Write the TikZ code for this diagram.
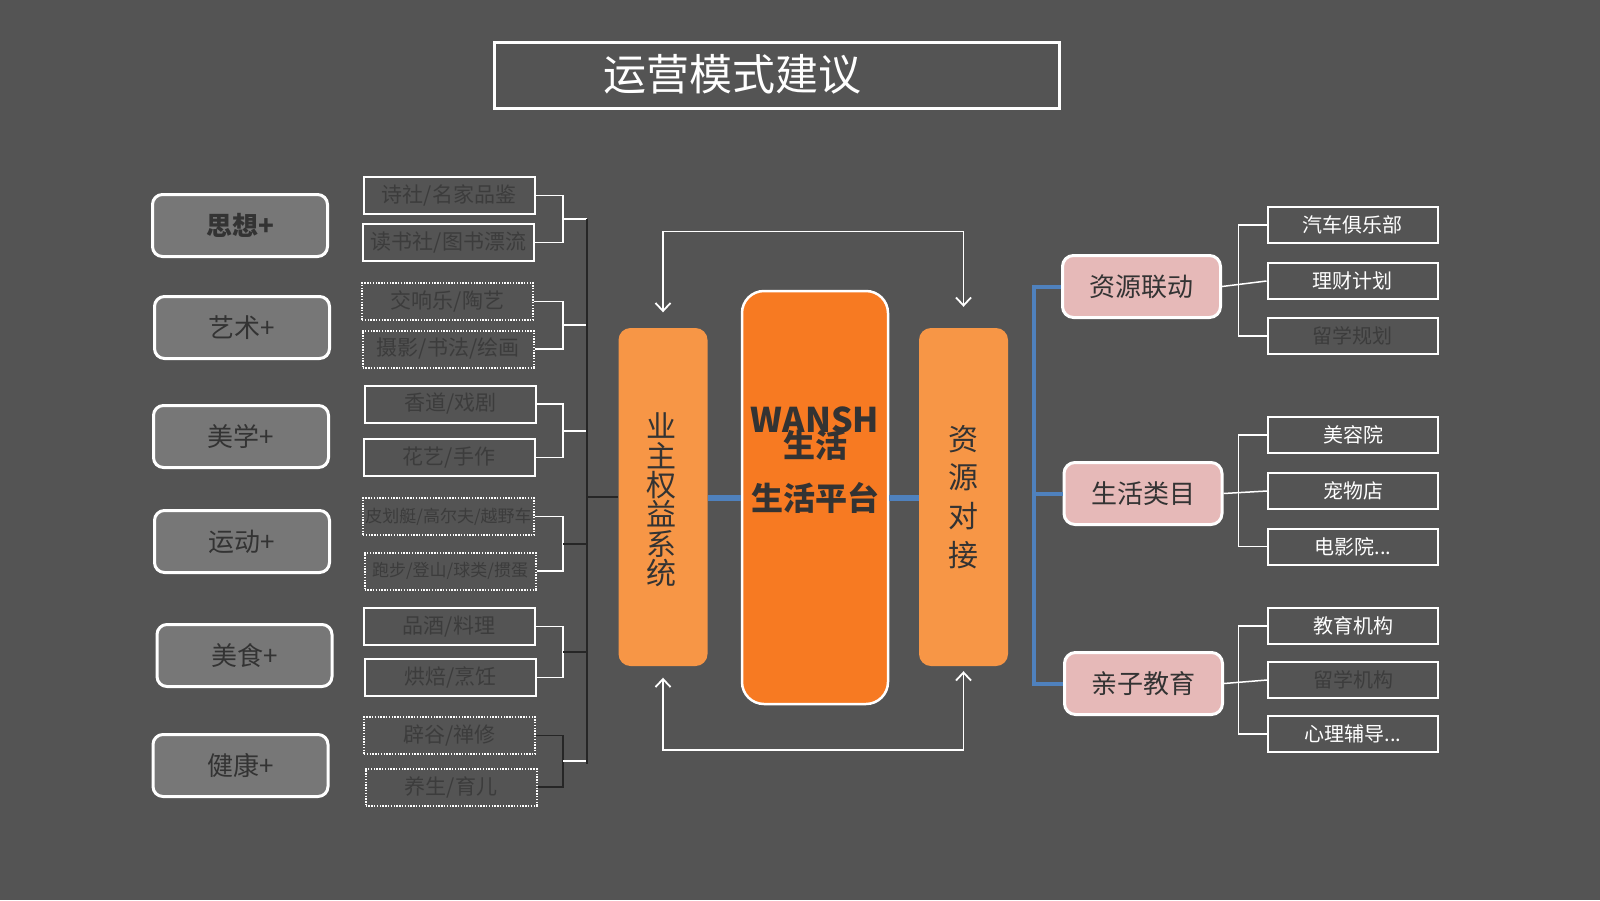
\documentclass[tikz,border=0pt]{standalone}
\usepackage{fontspec}
\setmainfont{Noto Sans CJK SC}
\usetikzlibrary{arrows.meta,calc}
\definecolor{bg}{HTML}{545454}
\definecolor{lfill}{HTML}{777777}
\definecolor{dtxt}{HTML}{333333}
\definecolor{mtxt}{HTML}{3C3C3C}
\definecolor{dline}{HTML}{262626}
\definecolor{org}{HTML}{F79646}
\definecolor{orgc}{HTML}{F77A22}
\definecolor{pnk}{HTML}{E6B9B8}
\definecolor{blu}{HTML}{4F81BD}
\newcommand\myfs[1]{\fontsize{#1}{#1}\selectfont}
\begin{document}
\begin{tikzpicture}[x=1pt,y=-1pt,
  lbox/.style={draw=white, line width=3pt, fill=lfill, rounded corners=10pt, minimum width=175pt, minimum height=62pt, inner sep=0pt, text=dtxt, font=\myfs{26}},
  mbox/.style={draw=white, line width=2pt, minimum width=171pt, minimum height=37pt, inner sep=0pt, text=mtxt, font=\myfs{21}},
  dbox/.style={mbox, dash pattern=on 1.4pt off 1.4pt},
  obox/.style={fill=org, rounded corners=12pt, minimum width=89pt, minimum height=338pt, inner sep=0pt, text=dtxt},
  pbox/.style={draw=white, line width=3pt, fill=pnk, rounded corners=11pt, minimum width=158pt, minimum height=62pt, inner sep=0pt, text=dtxt, font=\myfs{26}},
  rbox/.style={draw=white, line width=2pt, minimum width=170pt, minimum height=36pt, inner sep=0pt, text=white, font=\myfs{20}},
  wl/.style={draw=white, line width=1.8pt},
  dl/.style={draw=dline, line width=1.8pt},
  bl/.style={draw=blu, line width=4pt},
  tip/.style={{Straight Barb[length=8pt,width=15pt]}-{Straight Barb[length=8pt,width=15pt]}}
]
\fill[bg] (0,0) rectangle (1600,900);
\useasboundingbox (0,0) rectangle (1600,900);

% title
\node[draw=white, line width=3pt, minimum width=565pt, minimum height=66pt, inner sep=0pt] (tbox) at (776.5,75) {};
\node[text=white, font=\myfs{43}, inner sep=0pt] (ttext) at (732,74) {运营模式建议};

% left category boxes
\node[lbox, font=\bfseries\myfs{26}] (sx) at (240,225.5) {思想+};
\node[lbox] (ys) at (242,327.5) {艺术+};
\node[lbox] (mx) at (241,436.5) {美学+};
\node[lbox] (yd) at (242,541.5) {运动+};
\node[lbox] (ms) at (244.5,655.5) {美食+};
\node[lbox] (jk) at (240.5,765.5) {健康+};

% middle column
\node[mbox] (a1) at (449,195.5) {诗社/名家品鉴};
\node[mbox] (a2) at (448.5,242.5) {读书社/图书漂流};
\node[dbox] (b1) at (447.5,301.5) {交响乐/陶艺};
\node[dbox] (b2) at (448,349) {摄影/书法/绘画};
\node[mbox] (c1) at (450.5,404) {香道/戏剧};
\node[mbox] (c2) at (449,457.5) {花艺/手作};
\node[dbox, font=\myfs{17}] (d1) at (448.5,516.5) {皮划艇/高尔夫/越野车};
\node[dbox, font=\myfs{17}] (d2) at (450,571) {跑步/登山/球类/掼蛋};
\node[mbox] (e1) at (449,626.5) {品酒/料理};
\node[mbox] (e2) at (450.5,677.5) {烘焙/烹饪};
\node[dbox] (f1) at (449.5,735.5) {辟谷/禅修};
\node[dbox] (f2) at (451,787) {养生/育儿};

\coordinate (bxl) at (563,0);
\coordinate (bus) at (587,0);
\foreach \p/\q/\m in {a1/a2/am,b1/b2/bm,c1/c2/cm,d1/d2/dm,e1/e2/em}{
  \draw[wl] (\p.east) -- (\p.east -| bxl) -- (\q.east -| bxl) -- (\q.east);
  \coordinate (\m) at ($(\p.east -| bxl)!0.5!(\q.east -| bxl)$);
}
\draw[dl] (f1.east) -- (f1.east -| bxl) -- (f2.east -| bxl) -- (f2.east);
\coordinate (fm) at ($(f1.east -| bxl)!0.5!(f2.east -| bxl)$);
\draw[wl] (am) -- (am -| bus);
\draw[wl] (bm) -- (bm -| bus);
\draw[wl] (cm) -- (cm -| bus);
\draw[dl] (dm) -- (dm -| bus);
\draw[dl] (em) -- (em -| bus);
\draw[wl] (fm) -- (fm -| bus);
\draw[dl] (am -| bus) -- ([yshift=-3pt]fm -| bus);

% center
\node[obox] (yz) at (663,497) {};
\node[text=dtxt, font=\myfs{30}, align=center, inner sep=0pt] (yzt) at (661,500) {业\\[-0.6pt]主\\[-0.6pt]权\\[-0.6pt]益\\[-0.6pt]系\\[-0.6pt]统};
\node[obox] (zy) at (963.5,497) {};
\node[text=dtxt, font=\myfs{30}, align=center, inner sep=0pt] (zyt) at (963,497) {资\\[8.8pt]源\\[8.8pt]对\\[8.8pt]接};
\node[draw=white, line width=2.5pt, fill=orgc, rounded corners=22pt, minimum width=146pt, minimum height=413pt, inner sep=0pt] (ctr) at (815,497.5) {};
\node[text=dtxt, font=\bfseries\myfs{34}, anchor=base, inner sep=0pt] (cw) at (815,432) {WANSH};
\node[text=dtxt, font=\bfseries\myfs{32}, anchor=base, inner sep=0pt] (cs) at (815,457) {生活};
\node[text=dtxt, font=\bfseries\myfs{32}, anchor=base, inner sep=0pt] (cp) at (815,510) {生活平台};

\coordinate (bly) at (0,498);
\draw[bl, line width=6pt] (yz.east |- bly) -- (ctr.west |- bly);
\draw[bl, line width=6pt] (ctr.east |- bly) -- (zy.west |- bly);
\draw[dl] (bus |- yz.west) -- (yz.west);

% feedback loops
\coordinate (t1) at ([yshift=15.5pt]yz.north);
\coordinate (t2) at ([yshift=21pt]zy.north);
\coordinate (topc) at (0,231.5);
\draw[wl, tip] (t1) -- (t1 |- topc) -- (t2 |- topc) -- (t2);
\coordinate (b1p) at ([yshift=-11.5pt]yz.south);
\coordinate (b2p) at ([yshift=-5pt]zy.south);
\coordinate (botc) at (0,750);
\draw[wl, tip] (b1p) -- (b1p |- botc) -- (b2p |- botc) -- (b2p);

% right side
\node[pbox] (zl) at (1141.5,286.5) {资源联动};
\node[pbox] (sh) at (1143,493.5) {生活类目};
\node[pbox] (qz) at (1143.5,683.5) {亲子教育};

\node[rbox] (r1) at (1352.5,225) {汽车俱乐部};
\node[rbox] (r2) at (1352.5,281) {理财计划};
\node[rbox, text=mtxt] (r3) at (1352.5,336) {留学规划};
\node[rbox] (r4) at (1353,435) {美容院};
\node[rbox] (r5) at (1353,491) {宠物店};
\node[rbox] (r6) at (1353,546.5) {电影院...};
\node[rbox] (r7) at (1353,626) {教育机构};
\node[rbox, text=mtxt] (r8) at (1353,680) {留学机构};
\node[rbox] (r9) at (1353,734) {心理辅导...};

\coordinate (bxr) at (1238.5,0);
\foreach \p/\a/\b/\c in {zl/r1/r2/r3, sh/r4/r5/r6, qz/r7/r8/r9}{
  \draw[wl, line width=1.5pt] (\a.west) -- (\a.west -| bxr) -- (\c.west -| bxr) -- (\c.west);
  \draw[wl, line width=1.5pt] (\p.east) -- (\b.west);
}

\coordinate (bbus) at (1034,0);
\draw[bl] (zl.west) -- (zl.west -| bbus) -- (qz.west -| bbus) -- (qz.west);
\draw[bl] (bbus |- sh.west) -- (sh.west);
\end{tikzpicture}
\end{document}
